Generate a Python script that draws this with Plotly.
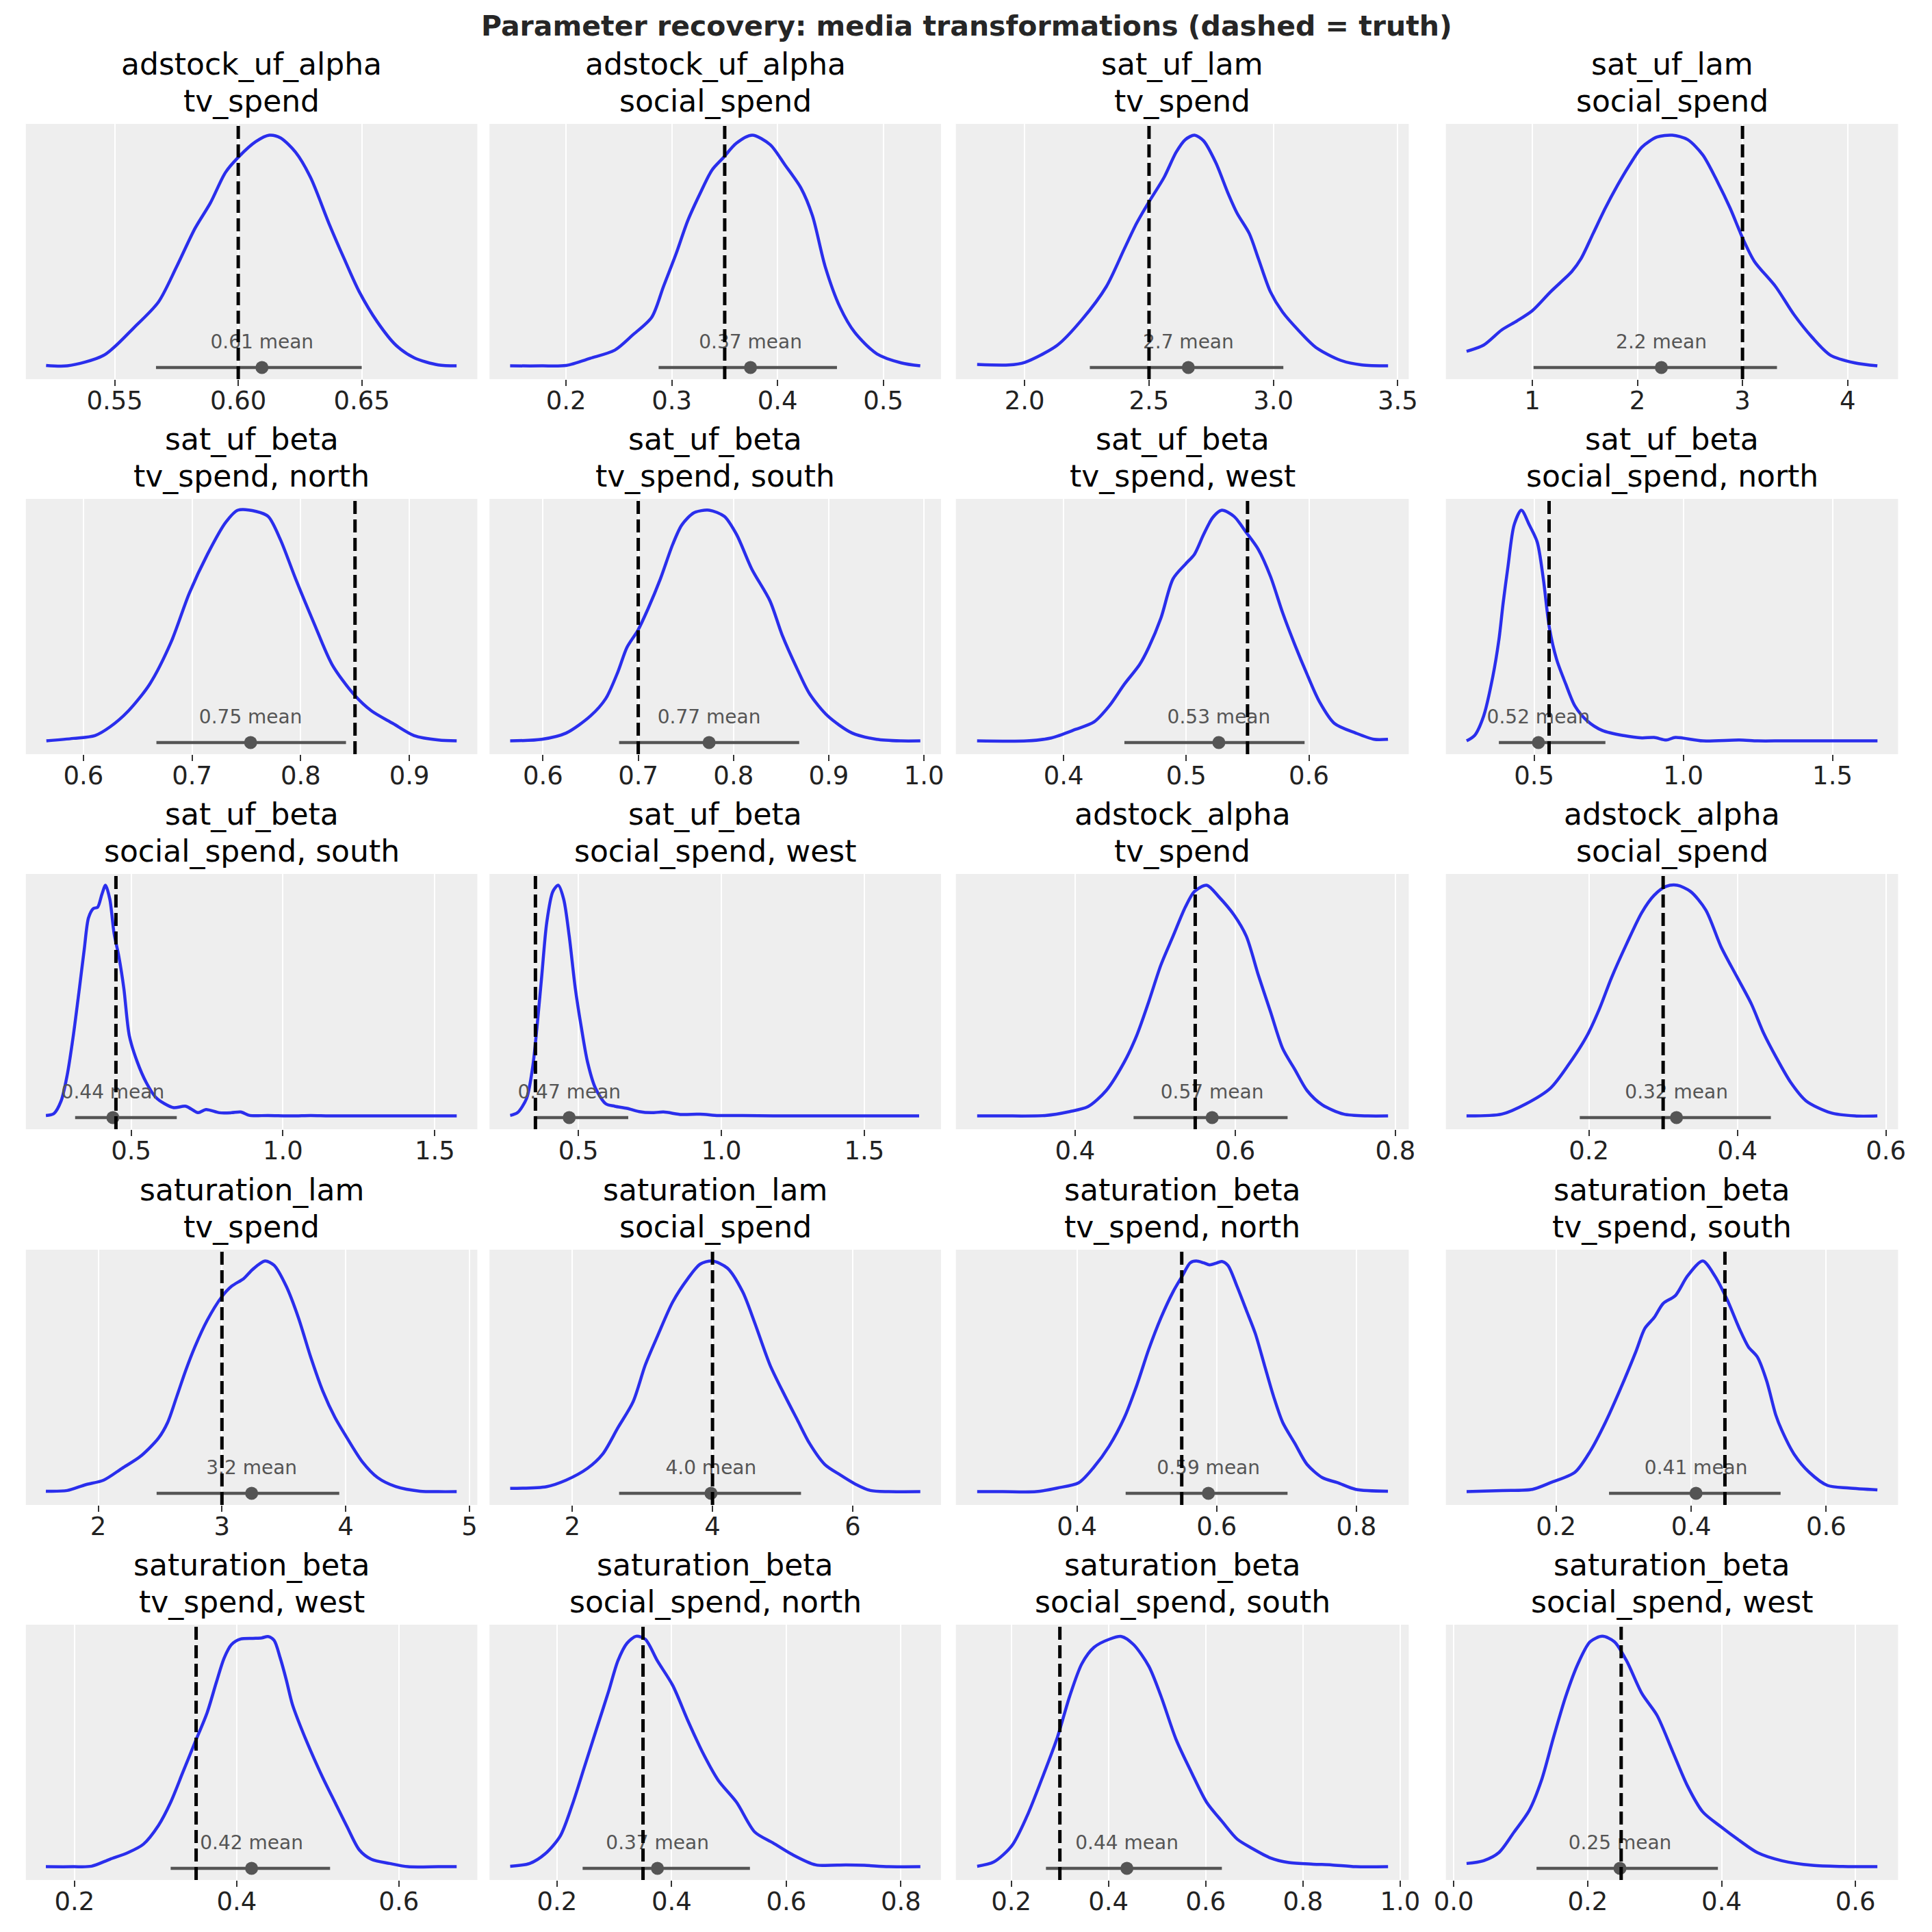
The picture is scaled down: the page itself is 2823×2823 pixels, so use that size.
import plotly.graph_objects as go

# panel titles (parameter / coordinates)
var_names = ["adstock_uf_alpha", "adstock_uf_alpha", "sat_uf_lam", "sat_uf_lam",
             "sat_uf_beta", "sat_uf_beta", "sat_uf_beta", "sat_uf_beta",
             "sat_uf_beta", "sat_uf_beta", "adstock_alpha", "adstock_alpha",
             "saturation_lam", "saturation_lam", "saturation_beta", "saturation_beta",
             "saturation_beta", "saturation_beta", "saturation_beta", "saturation_beta"]
coord_names = ["tv_spend", "social_spend", "tv_spend", "social_spend",
               "tv_spend, north", "tv_spend, south", "tv_spend, west", "social_spend, north",
               "social_spend, south", "social_spend, west", "tv_spend", "social_spend",
               "tv_spend", "social_spend", "tv_spend, north", "tv_spend, south",
               "tv_spend, west", "social_spend, north", "social_spend, south", "social_spend, west"]

truth = [0.60, 0.35, 2.5, 3.0, 0.85, 0.70, 0.55, 0.55, 0.45, 0.35,
         0.55, 0.30, 3.0, 4.0, 0.55, 0.45, 0.35, 0.35, 0.30, 0.25]
post_mean = [0.6096, 0.3744, 2.658, 2.228, 0.7539, 0.7744, 0.5266, 0.5143, 0.4399, 0.4681,
             0.5711, 0.318, 3.240, 3.978, 0.5882, 0.4072, 0.4184, 0.3752, 0.4379, 0.2482]
mean_labels = ["0.61", "0.37", "2.7", "2.2", "0.75", "0.77", "0.53", "0.52", "0.44", "0.47",
               "0.57", "0.32", "3.2", "4.0", "0.59", "0.41", "0.42", "0.37", "0.44", "0.25"]
hdi_low = [0.5667, 0.2875, 2.262, 1.012, 0.6672, 0.6799, 0.4496, 0.3816, 0.3156, 0.3468,
           0.473, 0.1877, 2.472, 2.668, 0.4697, 0.2784, 0.3186, 0.2446, 0.2714, 0.1236]
hdi_high = [0.65, 0.4562, 3.040, 3.328, 0.8417, 0.869, 0.5965, 0.7388, 0.6503, 0.6745,
            0.6654, 0.4451, 3.948, 5.262, 0.7015, 0.5324, 0.5152, 0.5366, 0.6332, 0.3945]

x_ranges = [[0.514, 0.6968], [0.1275, 0.5546], [1.7235, 3.544], [0.178, 4.480],
            [0.547, 0.9626], [0.5438, 1.0179], [0.3122, 0.6814], [0.204, 1.720],
            [0.1533, 1.640], [0.1894, 1.768], [0.251, 0.8167], [0.0074, 0.6164],
            [1.415, 5.064], [0.820, 7.258], [0.2266, 0.875], [0.0369, 0.7063],
            [0.14, 0.6968], [0.0821, 0.870], [0.0861, 1.0175], [-0.0118, 0.6636]]

tick_labels = [["0.55", "0.60", "0.65"], ["0.2", "0.3", "0.4", "0.5"],
               ["2.0", "2.5", "3.0", "3.5"], ["1", "2", "3", "4"],
               ["0.6", "0.7", "0.8", "0.9"], ["0.6", "0.7", "0.8", "0.9", "1.0"],
               ["0.4", "0.5", "0.6"], ["0.5", "1.0", "1.5"],
               ["0.5", "1.0", "1.5"], ["0.5", "1.0", "1.5"],
               ["0.4", "0.6", "0.8"], ["0.2", "0.4", "0.6"],
               ["2", "3", "4", "5"], ["2", "4", "6"],
               ["0.4", "0.6", "0.8"], ["0.2", "0.4", "0.6"],
               ["0.2", "0.4", "0.6"], ["0.2", "0.4", "0.6", "0.8"],
               ["0.2", "0.4", "0.6", "0.8", "1.0"], ["0.0", "0.2", "0.4", "0.6"]]

# KDE curves (density scaled so the peak is 1)
p01_x = [0.5222, 0.5308, 0.5456, 0.5579, 0.5677, 0.5751, 0.5825, 0.5887, 0.5948, 0.6000, 0.6071, 0.6126,
         0.6170, 0.6232, 0.6293, 0.6367, 0.6429, 0.6490, 0.6564, 0.6638, 0.6712, 0.6810, 0.6884]
p01_y = [0.002, 0.000, 0.046, 0.167, 0.277, 0.431, 0.596, 0.706, 0.838, 0.904, 0.972, 1.000,
         0.989, 0.926, 0.816, 0.618, 0.464, 0.321, 0.189, 0.090, 0.035, 0.004, 0.000]
p02_x = [0.147, 0.177, 0.200, 0.223, 0.246, 0.263, 0.281, 0.292, 0.304, 0.315, 0.327, 0.338, 0.349,
         0.361, 0.376, 0.393, 0.407, 0.422, 0.433, 0.445, 0.459, 0.473, 0.494, 0.517, 0.535]
p02_y = [0.000, 0.000, 0.002, 0.033, 0.068, 0.134, 0.211, 0.343, 0.486, 0.629, 0.750, 0.849, 0.904,
         0.965, 1.000, 0.959, 0.871, 0.772, 0.651, 0.431, 0.255, 0.145, 0.052, 0.013, 0.000]
p03_x = [1.809, 1.936, 2.000, 2.132, 2.230, 2.328, 2.401, 2.450, 2.497, 2.560, 2.609, 2.646, 2.683,
         2.719, 2.768, 2.817, 2.854, 2.903, 2.940, 2.988, 3.037, 3.099, 3.172, 3.270, 3.356, 3.461]
p03_y = [0.006, 0.004, 0.015, 0.090, 0.200, 0.343, 0.508, 0.618, 0.706, 0.816, 0.926, 0.981, 1.000,
         0.976, 0.882, 0.750, 0.662, 0.574, 0.464, 0.321, 0.233, 0.156, 0.079, 0.024, 0.004, 0.000]
p04_x = [0.375, 0.537, 0.710, 0.855, 1.000, 1.174, 1.376, 1.463, 1.579, 1.695, 1.811, 1.926, 2.042, 2.187,
         2.332, 2.477, 2.621, 2.766, 2.882, 3.003, 3.113, 3.316, 3.490, 3.664, 3.837, 4.069, 4.283]
p04_y = [0.063, 0.090, 0.156, 0.195, 0.239, 0.321, 0.409, 0.464, 0.574, 0.684, 0.783, 0.871, 0.948, 0.992,
         1.000, 0.981, 0.915, 0.794, 0.684, 0.552, 0.453, 0.343, 0.222, 0.123, 0.046, 0.013, 0.000]
p05_x = [0.5659, 0.5910, 0.6106, 0.6246, 0.6414, 0.6610, 0.6806, 0.6974, 0.7142, 0.7309, 0.7421, 0.7589,
         0.7701, 0.7813, 0.7953, 0.8121, 0.8289, 0.8485, 0.8652, 0.8848, 0.9044, 0.9268, 0.9436]
p05_y = [0.000, 0.011, 0.023, 0.061, 0.130, 0.246, 0.427, 0.639, 0.809, 0.947, 1.000, 0.995,
         0.973, 0.873, 0.703, 0.512, 0.331, 0.204, 0.130, 0.076, 0.023, 0.004, 0.000]
p06_x = [0.5655, 0.5987, 0.6243, 0.6498, 0.6658, 0.6786, 0.6882, 0.6997, 0.7105, 0.7233, 0.7361, 0.7457, 0.7585,
         0.7744, 0.7904, 0.8032, 0.8192, 0.8383, 0.8511, 0.8671, 0.8799, 0.8990, 0.9246, 0.9502, 0.9757, 0.9962]
p06_y = [0.000, 0.007, 0.034, 0.108, 0.183, 0.299, 0.406, 0.480, 0.575, 0.703, 0.851, 0.936, 0.989,
         1.000, 0.973, 0.895, 0.745, 0.607, 0.459, 0.310, 0.204, 0.108, 0.034, 0.007, 0.000, 0.000]
p07_x = [0.3295, 0.3702, 0.3901, 0.4099, 0.4248, 0.4372, 0.4496, 0.4620, 0.4695, 0.4794, 0.4893, 0.4993, 0.5067, 0.5141,
         0.5216, 0.5290, 0.5390, 0.5489, 0.5588, 0.5687, 0.5787, 0.5886, 0.5985, 0.6084, 0.6208, 0.6382, 0.6531, 0.6645]
p07_y = [0.000, 0.000, 0.013, 0.050, 0.082, 0.151, 0.246, 0.331, 0.406, 0.533, 0.703, 0.766, 0.809, 0.894,
         0.968, 1.000, 0.973, 0.904, 0.830, 0.713, 0.554, 0.416, 0.289, 0.172, 0.076, 0.034, 0.007, 0.007]
p08_x = [0.2735, 0.3000, 0.3306, 0.3612, 0.3816, 0.3959, 0.4122, 0.4327, 0.4571, 0.4837, 0.5102, 0.5306, 0.5510, 0.5755, 0.6061,
         0.6367, 0.6776, 0.7286, 0.8000, 0.8612, 0.9020, 0.9429, 0.9735, 1.0653, 1.1878, 1.2490, 1.3306, 1.4122, 1.5143, 1.6510]
p08_y = [0.000, 0.023, 0.108, 0.278, 0.437, 0.597, 0.756, 0.936, 1.000, 0.936, 0.862, 0.703, 0.490, 0.352, 0.246,
         0.151, 0.087, 0.045, 0.023, 0.013, 0.015, 0.004, 0.015, 0.000, 0.004, 0.000, 0.000, 0.000, 0.000, 0.000]
p09_x = [0.2194, 0.2455, 0.2695, 0.2896, 0.3096, 0.3297, 0.3457, 0.3597, 0.3758, 0.3898, 0.4038, 0.4158, 0.4299,
         0.4439, 0.4599, 0.4760, 0.4940, 0.5200, 0.5501, 0.5802, 0.6102, 0.6403, 0.6804, 0.7204, 0.7465, 0.7906,
         0.8307, 0.8607, 0.8908, 0.9509, 1.0311, 1.0912, 1.1513, 1.2315, 1.3116, 1.4118, 1.5721]
p09_y = [0.002, 0.010, 0.065, 0.178, 0.348, 0.553, 0.723, 0.859, 0.899, 0.905, 0.961, 1.000, 0.939,
         0.791, 0.689, 0.553, 0.348, 0.235, 0.144, 0.082, 0.053, 0.036, 0.042, 0.014, 0.028, 0.014,
         0.014, 0.017, 0.002, 0.002, 0.000, 0.002, 0.000, 0.000, 0.000, 0.000, 0.000]
p10_x = [0.2617, 0.2872, 0.3191, 0.3404, 0.3553, 0.3723, 0.3894, 0.4106, 0.4298, 0.4489, 0.4681, 0.4894, 0.5106, 0.5319,
         0.5596, 0.5957, 0.6277, 0.6702, 0.7128, 0.7553, 0.7979, 0.8617, 0.9255, 0.9894, 1.0745, 1.1809, 1.2872, 1.5000, 1.6915]
p10_y = [0.002, 0.014, 0.076, 0.212, 0.383, 0.610, 0.837, 0.972, 1.000, 0.939, 0.780, 0.553, 0.383, 0.235,
         0.121, 0.053, 0.042, 0.033, 0.019, 0.014, 0.017, 0.006, 0.008, 0.002, 0.002, 0.000, 0.000, 0.000, 0.000]
p11_x = [0.2776, 0.3095, 0.3627, 0.3932, 0.4160, 0.4388, 0.4616, 0.4768, 0.4920, 0.5072, 0.5224, 0.5376, 0.5490,
         0.5643, 0.5795, 0.5985, 0.6137, 0.6289, 0.6441, 0.6593, 0.6745, 0.6897, 0.7087, 0.7354, 0.7658, 0.7909]
p11_y = [0.000, 0.000, 0.002, 0.019, 0.040, 0.110, 0.235, 0.348, 0.496, 0.655, 0.780, 0.905, 0.973,
         1.000, 0.950, 0.871, 0.780, 0.610, 0.451, 0.292, 0.201, 0.110, 0.048, 0.008, 0.000, 0.000]
p12_x = [0.0352, 0.0828, 0.1156, 0.1484, 0.1730, 0.1975, 0.2139, 0.2303, 0.2508, 0.2713, 0.2877, 0.3041, 0.3189,
         0.3369, 0.3574, 0.3779, 0.3984, 0.4189, 0.4352, 0.4516, 0.4721, 0.4926, 0.5254, 0.5582, 0.5885]
p12_y = [0.000, 0.008, 0.053, 0.121, 0.224, 0.348, 0.462, 0.598, 0.746, 0.882, 0.956, 0.995, 1.000,
         0.973, 0.893, 0.734, 0.609, 0.485, 0.360, 0.258, 0.144, 0.065, 0.014, 0.000, 0.000]
p13_x = [1.577, 1.749, 1.897, 2.044, 2.192, 2.339, 2.487, 2.561, 2.635, 2.708, 2.782, 2.880, 2.999, 3.077, 3.176,
         3.249, 3.348, 3.422, 3.520, 3.618, 3.717, 3.815, 3.913, 4.012, 4.135, 4.258, 4.405, 4.602, 4.750, 4.897]
p13_y = [0.002, 0.005, 0.030, 0.050, 0.101, 0.152, 0.232, 0.300, 0.413, 0.527, 0.629, 0.742, 0.845, 0.890, 0.924,
         0.964, 1.000, 0.981, 0.890, 0.754, 0.584, 0.436, 0.322, 0.232, 0.129, 0.061, 0.022, 0.002, 0.000, 0.000]
p14_x = [1.115, 1.636, 1.913, 2.217, 2.434, 2.651, 2.868, 3.041, 3.215, 3.432, 3.649, 3.822, 3.996,
         4.213, 4.429, 4.603, 4.820, 5.037, 5.210, 5.384, 5.601, 5.818, 6.035, 6.252, 6.512, 6.963]
p14_y = [0.014, 0.022, 0.050, 0.101, 0.163, 0.277, 0.390, 0.549, 0.674, 0.822, 0.924, 0.986, 1.000,
         0.969, 0.867, 0.731, 0.549, 0.413, 0.311, 0.209, 0.118, 0.073, 0.033, 0.005, 0.000, 0.000]
p15_x = [0.2571, 0.2937, 0.3416, 0.3721, 0.4026, 0.4244, 0.4462, 0.4680, 0.4854, 0.5028, 0.5203, 0.5377, 0.5508, 0.5621,
         0.5708, 0.5813, 0.5900, 0.5987, 0.6074, 0.6161, 0.6292, 0.6423, 0.6553, 0.6684, 0.6815, 0.6946, 0.7120, 0.7294,
         0.7512, 0.7730, 0.7991, 0.8453]
p15_y = [0.000, 0.000, 0.000, 0.016, 0.039, 0.107, 0.198, 0.322, 0.459, 0.617, 0.754, 0.867, 0.935, 0.992,
         1.000, 0.992, 0.983, 0.990, 0.998, 0.981, 0.890, 0.788, 0.686, 0.549, 0.413, 0.300, 0.209, 0.118,
         0.061, 0.039, 0.010, 0.002]
p16_x = [0.0676, 0.1198, 0.1649, 0.1919, 0.2279, 0.2505, 0.2730, 0.2955, 0.3180, 0.3315, 0.3450, 0.3586, 0.3766, 0.3946,
         0.4171, 0.4351, 0.4532, 0.4712, 0.4847, 0.4982, 0.5117, 0.5252, 0.5342, 0.5523, 0.5748, 0.6018, 0.6333, 0.6757]
p16_y = [0.000, 0.005, 0.010, 0.039, 0.084, 0.175, 0.300, 0.447, 0.606, 0.708, 0.754, 0.816, 0.850, 0.935,
         1.000, 0.935, 0.833, 0.708, 0.628, 0.583, 0.481, 0.333, 0.266, 0.163, 0.084, 0.027, 0.016, 0.008]
p17_x = [0.1647, 0.1985, 0.2210, 0.2435, 0.2660, 0.2848, 0.3036, 0.3186, 0.3336, 0.3486, 0.3636, 0.3749, 0.3846,
         0.3936, 0.4049, 0.4199, 0.4311, 0.4386, 0.4462, 0.4537, 0.4612, 0.4687, 0.4799, 0.4912, 0.5062, 0.5212,
         0.5362, 0.5512, 0.5662, 0.5887, 0.6113, 0.6488, 0.6713]
p17_y = [0.000, 0.000, 0.002, 0.032, 0.061, 0.097, 0.179, 0.279, 0.409, 0.539, 0.668, 0.799, 0.905,
         0.963, 0.987, 0.990, 0.992, 0.998, 0.981, 0.905, 0.810, 0.704, 0.598, 0.503, 0.386, 0.279,
         0.173, 0.073, 0.032, 0.014, 0.000, 0.000, 0.000]
p18_x = [0.1182, 0.1522, 0.1788, 0.2053, 0.2265, 0.2478, 0.2690, 0.2903, 0.3062, 0.3221, 0.3380, 0.3540, 0.3752,
         0.4018, 0.4283, 0.4549, 0.4814, 0.5133, 0.5451, 0.5770, 0.6088, 0.6513, 0.7044, 0.7363, 0.7787, 0.8340]
p18_y = [0.002, 0.014, 0.055, 0.132, 0.268, 0.433, 0.598, 0.763, 0.893, 0.969, 0.999, 0.986, 0.892,
         0.786, 0.633, 0.491, 0.374, 0.279, 0.150, 0.103, 0.055, 0.008, 0.008, 0.006, 0.000, 0.000]
p19_x = [0.1299, 0.1637, 0.2013, 0.2326, 0.2638, 0.2951, 0.3202, 0.3452, 0.3703, 0.4016, 0.4266, 0.4516, 0.4829,
         0.5080, 0.5393, 0.5706, 0.6019, 0.6332, 0.6645, 0.6958, 0.7333, 0.7709, 0.8209, 0.8585, 0.9086, 0.9750]
p19_y = [0.002, 0.020, 0.091, 0.220, 0.385, 0.562, 0.739, 0.880, 0.951, 0.986, 0.998, 0.963, 0.869,
         0.739, 0.550, 0.409, 0.279, 0.197, 0.120, 0.079, 0.038, 0.018, 0.011, 0.008, 0.000, 0.000]
p20_x = [0.0191, 0.0445, 0.0673, 0.0900, 0.1127, 0.1309, 0.1491, 0.1673, 0.1855, 0.2036, 0.2218, 0.2400, 0.2582,
         0.2809, 0.3036, 0.3264, 0.3491, 0.3718, 0.3991, 0.4264, 0.4536, 0.4900, 0.5355, 0.5809, 0.6327]
p20_y = [0.014, 0.026, 0.061, 0.150, 0.244, 0.374, 0.562, 0.739, 0.880, 0.975, 0.999, 0.975, 0.892,
         0.751, 0.656, 0.503, 0.350, 0.238, 0.173, 0.114, 0.061, 0.026, 0.006, 0.001, 0.000]

curves_x = [p01_x, p02_x, p03_x, p04_x, p05_x, p06_x, p07_x, p08_x, p09_x, p10_x,
            p11_x, p12_x, p13_x, p14_x, p15_x, p16_x, p17_x, p18_x, p19_x, p20_x]
curves_y = [p01_y, p02_y, p03_y, p04_y, p05_y, p06_y, p07_y, p08_y, p09_y, p10_y,
            p11_y, p12_y, p13_y, p14_y, p15_y, p16_y, p17_y, p18_y, p19_y, p20_y]

# figure geometry (pixels)
SIZE = 2823
col_px = [(20, 688), (706, 1374), (1396, 2066), (2121, 2790)]
row_px = [(181, 554), (729, 1102), (1277, 1650), (1826, 2199), (2374, 2747)]
y_range = [-0.0576, 1.049]

FONT = "DejaVu Sans"
BLUE = "#2a2eec"
GREY = "#555555"

fig = go.Figure()
layout = {}
annotations = []

for i in range(20):
    r, c = divmod(i, 4)
    n = "" if i == 0 else str(i + 1)
    xa, ya = "x" + n, "y" + n
    x0, x1 = col_px[c]
    y0, y1 = row_px[r]

    ticks = [float(t) for t in tick_labels[i]]
    layout["xaxis" + n] = dict(
        domain=[x0 / SIZE, x1 / SIZE], anchor=ya, range=x_ranges[i],
        tickvals=ticks, ticktext=tick_labels[i],
        showgrid=True, gridcolor="white", gridwidth=2,
        zeroline=False, showline=False,
        ticks="outside", ticklen=9, tickwidth=2, tickcolor="#333333",
        ticklabelstandoff=-10,
        tickfont=dict(family=FONT, size=37, color="#222222"),
    )
    layout["yaxis" + n] = dict(
        domain=[1 - y1 / SIZE, 1 - y0 / SIZE], anchor=xa, range=y_range,
        visible=False, showgrid=False, zeroline=False,
    )

    # posterior density
    fig.add_trace(go.Scatter(
        x=curves_x[i], y=curves_y[i], mode="lines", xaxis=xa, yaxis=ya,
        line=dict(color=BLUE, width=4.5, shape="spline", smoothing=0.8),
        showlegend=False, hoverinfo="skip"))
    # HDI bar
    fig.add_trace(go.Scatter(
        x=[hdi_low[i], hdi_high[i]], y=[-0.007, -0.007], mode="lines", xaxis=xa, yaxis=ya,
        line=dict(color=GREY, width=4.5), showlegend=False, hoverinfo="skip"))
    # mean label
    fig.add_trace(go.Scatter(
        x=[post_mean[i]], y=[0.097], mode="text", text=[mean_labels[i] + " mean"],
        textposition="middle center", xaxis=xa, yaxis=ya, cliponaxis=False,
        textfont=dict(family=FONT, size=28, color=GREY), showlegend=False, hoverinfo="skip"))
    # mean point
    fig.add_trace(go.Scatter(
        x=[post_mean[i]], y=[-0.007], mode="markers", xaxis=xa, yaxis=ya,
        marker=dict(color=GREY, size=19, line=dict(width=0)), showlegend=False, hoverinfo="skip"))
    # true value
    fig.add_trace(go.Scatter(
        x=[truth[i], truth[i]], y=y_range, mode="lines", xaxis=xa, yaxis=ya,
        line=dict(color="black", width=5, dash="19px,8px"), showlegend=False, hoverinfo="skip"))

    # two-line subplot title
    xc = (x0 + x1) / 2 / SIZE
    annotations.append(dict(
        text=var_names[i], x=xc, y=1 - (y0 - 87) / SIZE, xref="paper", yref="paper",
        xanchor="center", yanchor="middle", showarrow=False,
        font=dict(family=FONT, size=44, color="black")))
    annotations.append(dict(
        text=coord_names[i], x=xc, y=1 - (y0 - 33) / SIZE, xref="paper", yref="paper",
        xanchor="center", yanchor="middle", showarrow=False,
        font=dict(family=FONT, size=44, color="black")))

annotations.append(dict(
    text="<b>Parameter recovery: media transformations (dashed = truth)</b>",
    x=0.5, y=1 - 38 / SIZE, xref="paper", yref="paper", xanchor="center", yanchor="middle",
    showarrow=False, font=dict(family=FONT, size=41, color="#262626")))

fig.update_layout(
    width=SIZE, height=SIZE,
    margin=dict(l=0, r=0, t=0, b=0),
    paper_bgcolor="white", plot_bgcolor="#eeeeee",
    annotations=annotations,
    **layout,
)

fig.write_html("out.html", config={"displayModeBar": False},
               post_script="document.body.style.margin = '0';")
